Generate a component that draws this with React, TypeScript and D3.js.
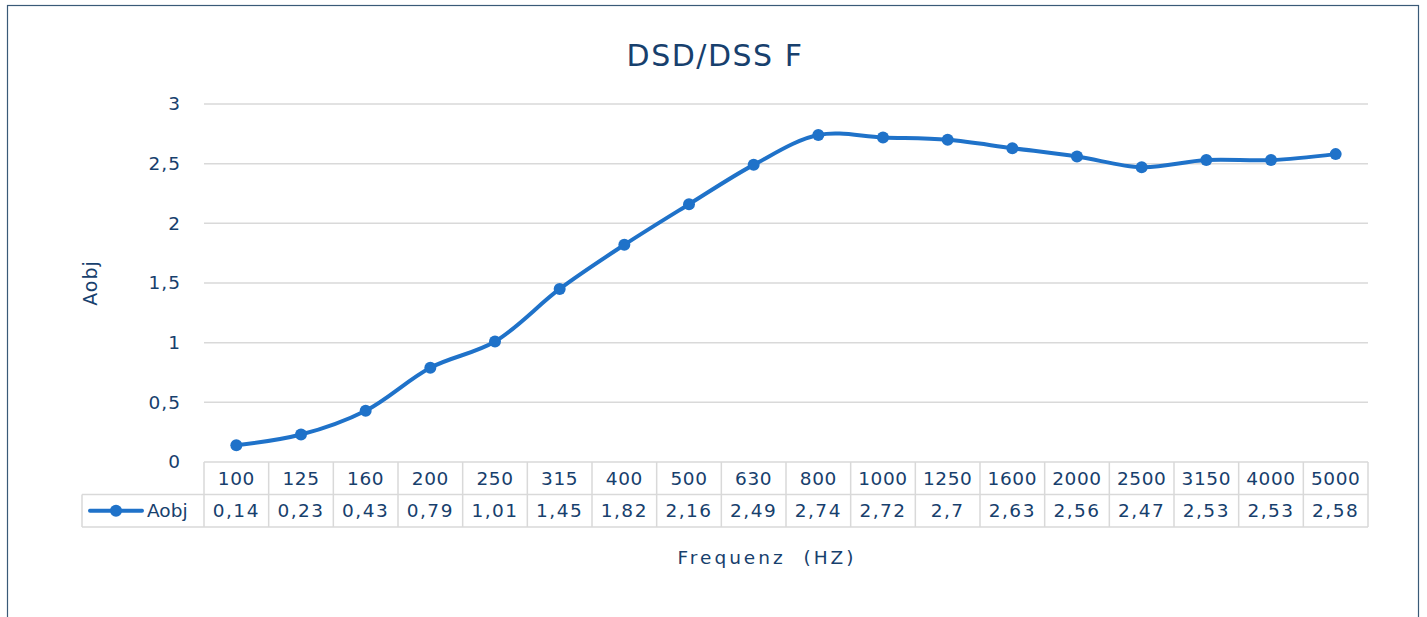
import React, { useRef, useEffect } from 'react';
import * as d3 from 'd3';

const categories = ['100', '125', '160', '200', '250', '315', '400', '500', '630', '800', '1000', '1250', '1600', '2000', '2500', '3150', '4000', '5000'];
const aobj = [0.14, 0.23, 0.43, 0.79, 1.01, 1.45, 1.82, 2.16, 2.49, 2.74, 2.72, 2.7, 2.63, 2.56, 2.47, 2.53, 2.53, 2.58];
const yTicks = [0, 0.5, 1, 1.5, 2, 2.5, 3];
const seriesName = 'Aobj';
const title = 'DSD/DSS F';
const xTitle = 'Frequenz  (HZ)';
const yTitle = 'Aobj';

const W = 1427, H = 617;
const textColor = '#17406d';
const lineColor = '#1f72c9';
const gridColor = '#d9d9d9';
const font = '"DejaVu Sans", Lato, sans-serif';

const fmt = (v: number) => String(v).replace('.', ',');

const App = () => {
  const ref = useRef<SVGSVGElement>(null);

  useEffect(() => {
    const svg = d3.select(ref.current);
    svg.selectAll('*').remove();

    const left = 204, right = 1368, top = 104, bottom = 462;
    const rowH = 32.5;

    const x = d3.scaleBand().domain(categories).range([left, right]);
    const y = d3.scaleLinear().domain([0, 3]).range([bottom, top]);

    // frame
    svg.append('rect')
      .attr('x', 7.5).attr('y', 5.5)
      .attr('width', 1411).attr('height', 700)
      .attr('fill', 'white')
      .attr('stroke', '#3a5a78').attr('stroke-width', 1.2);

    svg.append('text')
      .attr('x', 715).attr('y', 66)
      .attr('text-anchor', 'middle')
      .attr('font-size', 30)
      .attr('letter-spacing', 1.5)
      .attr('fill', textColor)
      .text(title);

    // gridlines
    svg.append('g').selectAll('line')
      .data(yTicks.slice(1))
      .join('line')
      .attr('x1', left).attr('x2', right)
      .attr('y1', d => y(d)).attr('y2', d => y(d))
      .attr('stroke', gridColor).attr('stroke-width', 1.5);

    svg.append('g').selectAll('text')
      .data(yTicks)
      .join('text')
      .attr('x', 181).attr('y', d => y(d))
      .attr('dy', '0.35em')
      .attr('text-anchor', 'end')
      .attr('font-size', 18.5)
      .attr('letter-spacing', 1)
      .attr('fill', textColor)
      .text(d => fmt(d));

    svg.append('text')
      .attr('transform', `translate(97,${(top + bottom) / 2}) rotate(-90)`)
      .attr('text-anchor', 'middle')
      .attr('font-size', 19)
      .attr('letter-spacing', 1)
      .attr('fill', textColor)
      .text(yTitle);

    // data table
    const tbl = svg.append('g');
    const legendLeft = 82;
    const r1 = bottom, r2 = bottom + rowH, r3 = bottom + rowH * 2;
    const hl = (x1: number, x2: number, yy: number) => tbl.append('line')
      .attr('x1', x1).attr('x2', x2).attr('y1', yy).attr('y2', yy)
      .attr('stroke', gridColor).attr('stroke-width', 1.5);
    hl(left, right, r1);
    hl(legendLeft, right, r2);
    hl(legendLeft, right, r3);
    const bounds = categories.map(c => x(c)!).concat([right]);
    tbl.selectAll('line.v')
      .data(bounds)
      .join('line')
      .attr('class', 'v')
      .attr('x1', d => d).attr('x2', d => d)
      .attr('y1', r1).attr('y2', r3)
      .attr('stroke', gridColor).attr('stroke-width', 1.5);
    tbl.append('line')
      .attr('x1', legendLeft).attr('x2', legendLeft).attr('y1', r2).attr('y2', r3)
      .attr('stroke', gridColor).attr('stroke-width', 1.5);

    tbl.selectAll('text.cat')
      .data(categories)
      .join('text')
      .attr('class', 'cat')
      .attr('x', d => x(d)! + x.bandwidth() / 2)
      .attr('y', (r1 + r2) / 2)
      .attr('dy', '0.35em')
      .attr('text-anchor', 'middle')
      .attr('font-size', 18.5)
      .attr('letter-spacing', 0.6)
      .attr('fill', textColor)
      .text(d => d);

    tbl.selectAll('text.val')
      .data(aobj)
      .join('text')
      .attr('class', 'val')
      .attr('x', (d, i) => x(categories[i])! + x.bandwidth() / 2)
      .attr('y', (r2 + r3) / 2)
      .attr('dy', '0.35em')
      .attr('text-anchor', 'middle')
      .attr('font-size', 18.5)
      .attr('letter-spacing', 1.5)
      .attr('fill', textColor)
      .text(d => fmt(d));

    // legend key
    const ly = (r2 + r3) / 2;
    tbl.append('line')
      .attr('x1', 90).attr('x2', 142).attr('y1', ly).attr('y2', ly)
      .attr('stroke', lineColor).attr('stroke-width', 4).attr('stroke-linecap', 'round');
    tbl.append('circle').attr('cx', 116).attr('cy', ly).attr('r', 6).attr('fill', lineColor);
    tbl.append('text')
      .attr('x', 147).attr('y', ly).attr('dy', '0.35em')
      .attr('font-size', 18.5).attr('fill', textColor)
      .text(seriesName);

    svg.append('text')
      .attr('x', 767).attr('y', 564)
      .attr('text-anchor', 'middle')
      .attr('font-size', 18.5)
      .attr('letter-spacing', 3)
      .attr('fill', textColor)
      .attr('xml:space', 'preserve')
      .style('white-space', 'pre')
      .text(xTitle);

    // series
    const line = d3.line<number>()
      .x((d, i) => x(categories[i])! + x.bandwidth() / 2)
      .y(d => y(d))
      .curve(d3.curveCatmullRom.alpha(0.5));

    svg.append('path')
      .datum(aobj)
      .attr('d', line)
      .attr('fill', 'none')
      .attr('stroke', lineColor)
      .attr('stroke-width', 4)
      .attr('stroke-linejoin', 'round')
      .attr('stroke-linecap', 'round');

    svg.append('g').selectAll('circle')
      .data(aobj)
      .join('circle')
      .attr('cx', (d, i) => x(categories[i])! + x.bandwidth() / 2)
      .attr('cy', d => y(d))
      .attr('r', 6)
      .attr('fill', lineColor);
  }, []);

  return (
    <svg ref={ref} width={W} height={H}
      style={{ position: 'absolute', left: 0, top: 0, fontFamily: font }} />
  );
};

export default App;
